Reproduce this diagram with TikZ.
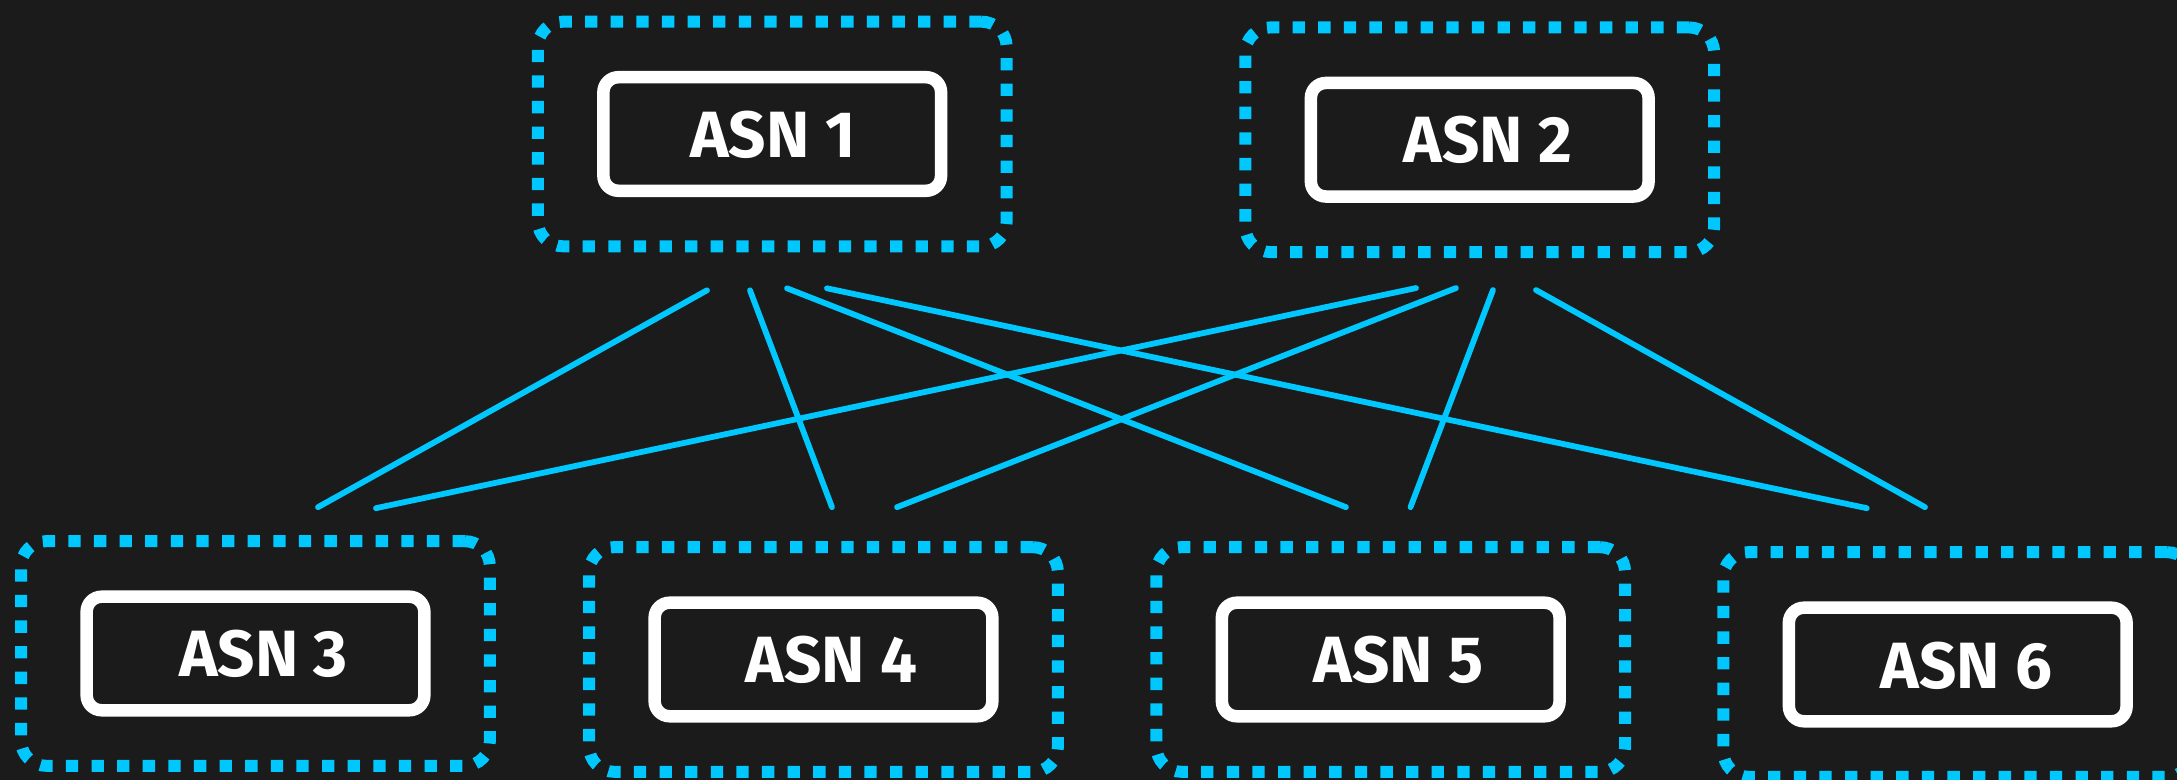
\documentclass[tikz,border=0pt]{standalone}
\usepackage{fontspec}
\setmainfont{Fira Sans}
\usetikzlibrary{calc}
\definecolor{bg}{HTML}{1B1B1B}
\definecolor{asblue}{HTML}{00C8FF}
\begin{document}
\begin{tikzpicture}[x=0.01cm,y=-0.01cm,
  zone/.style={draw=asblue, line width=0.12cm, dash pattern=on 0.123cm off 0.133cm,
    rounded corners=0.25cm, minimum width=4.685cm, minimum height=2.245cm, inner sep=0pt},
  asbox/.style={draw=white, line width=0.125cm, rounded corners=0.15cm,
    minimum width=3.375cm, minimum height=1.135cm, inner sep=0pt},
  asntext/.style={text=white, inner sep=0pt,
    font=\fontsize{18.6pt}{20pt}\selectfont\bfseries},
  link/.style={draw=asblue, line width=0.058cm, line cap=round}
]
% canvas
\fill[bg] (0,0) rectangle (2177,780);
\useasboundingbox (0,0) rectangle (2177,780);

% autonomous systems: dotted zone, white box, label
\node[zone] (z1) at (772.25,134) {};
\node[zone] (z2) at (1479.75,139.75) {};
\node[zone] (z3) at (255.5,653.5) {};
\node[zone] (z4) at (823.5,659.5) {};
\node[zone] (z5) at (1390.75,659.5) {};
\node[zone] (z6) at (1957.75,664.5) {};

\foreach \i in {1,...,6} {
  \node[asbox] (b\i) at (z\i) {};
}

\node[asntext] (t1) at ($(b1)+(0.5,0.5)$) {ASN 1};
\node[asntext] (t2) at ($(b2)+(8,0)$) {ASN 2};
\node[asntext] (t3) at ($(b3)+(8,0.5)$) {ASN 3};
\node[asntext] (t4) at ($(b4)+(8,0)$) {ASN 4};
\node[asntext] (t5) at ($(b5)+(8,0)$) {ASN 5};
\node[asntext] (t6) at ($(b6)+(9,1)$) {ASN 6};

% peering links
\draw[link] ($(z1.south)+(-65.25,38)$) -- ($(z3.north)+(62.5,-28)$);
\draw[link] ($(z1.south)+(-22.25,38)$) -- ($(z4.north)+(8.5,-34)$);
\draw[link] ($(z1.south)+(14.75,36)$) -- ($(z5.north)+(-44.75,-34)$);
\draw[link] ($(z1.south)+(54.75,36)$) -- ($(z6.north)+(-91,-38)$);
\draw[link] ($(z2.south)+(-63.75,30)$) -- ($(z3.north)+(120.5,-27)$);
\draw[link] ($(z2.south)+(-23.75,30)$) -- ($(z4.north)+(73.5,-34)$);
\draw[link] ($(z2.south)+(13.25,32)$) -- ($(z5.north)+(19.75,-34)$);
\draw[link] ($(z2.south)+(56.25,32)$) -- ($(z6.north)+(-32.75,-39)$);
\end{tikzpicture}
\end{document}
